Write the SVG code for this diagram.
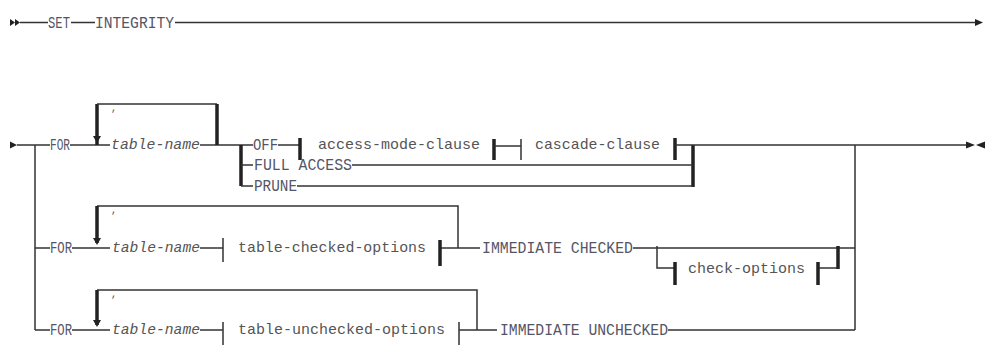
<svg xmlns="http://www.w3.org/2000/svg" width="992" height="345" viewBox="0 0 992 345">
<defs>
<style>
.l{stroke:#333;stroke-width:1.5;fill:none}
.t{stroke:#222;stroke-width:3.5;fill:none}
.a{fill:#222;stroke:none}
text{font-family:"Liberation Mono",monospace;font-size:15px;fill:#555}
.k{fill:#556;font-size:16px}
.i{font-style:italic}
.c{font-size:10px}
</style>
</defs>
<rect width="992" height="345" fill="#fff"/>
<g id="connectors">
<!-- top line -->
<path class="a" d="M10,19 L15,22.5 L10,26 Z M15,19 L20,22.5 L15,26 Z"/>
<path class="l" d="M20,22.5 H48 M71,22.5 H95 M175,22.5 H976"/>
<path class="a" d="M975,19 L983,22.5 L975,26 Z"/>
<!-- row 1 -->
<path class="a" d="M10,141.5 L17,145 L10,148.5 Z"/>
<path class="l" d="M17,145 H50 M70,145 H110 M200,145 H253"/>
<path class="l" d="M35,145 V330 M35,248 H50 M35,330 H50"/>
<path class="t" d="M97,145 V104"/>
<path class="l" d="M97,104 H217"/>
<path class="t" d="M217,104 V145"/>
<path class="a" d="M93,136 L101,136 L97,143 Z"/>
<path class="t" d="M241,145 V186"/>
<path class="l" d="M241,165 H253 M241,186 H253 M278,145 H300"/>
<path class="t" d="M300,138 V160 M494,139 V160 M675,138 V160 M693,145 V187"/>
<path class="l" d="M494,146 H521 M521,139 V160 M675,145 H968 M352,165 H693 M297,186 H693 M855,145 V330"/>
<path class="a" d="M966,141.5 L975,145 L966,148.5 Z M985,141.5 L976,145 L985,148.5 Z"/>
<!-- row 2 -->
<path class="l" d="M72,248 H110 M97,206 H458 V248 M200,248 H223 M223,238 V262 M440,248 H480 M633,248 H855"/>
<path class="t" d="M97,206 V243 M440,240 V266"/>
<path class="a" d="M93,238 L101,238 L97,245 Z"/>
<path class="l" d="M657,246 V268 H675 M818,268 H838"/>
<path class="t" d="M675,262 V285 M818,262 V285 M838,246 V269"/>
<!-- row 3 -->
<path class="l" d="M72,330 H110 M97,290 H477 V330 M200,330 H223 M223,322 V345 M459,322 V345 M459,330 H497 M668,330 H855"/>
<path class="t" d="M97,290 V325"/>
<path class="a" d="M93,320 L101,320 L97,327 Z"/>
</g>
<g id="set"><text class="k" x="48" y="28" textLength="22" lengthAdjust="spacingAndGlyphs">SET</text></g>
<g id="integrity"><text class="k" x="95" y="28" textLength="79" lengthAdjust="spacingAndGlyphs">INTEGRITY</text></g>
<g id="r1-for"><text class="k" x="50" y="150" textLength="20" lengthAdjust="spacingAndGlyphs">FOR</text></g>
<g id="r1-comma"><text class="c" x="111" y="111">,</text></g>
<g id="r1-table"><text class="i" x="111" y="149" textLength="89" lengthAdjust="spacingAndGlyphs">table-name</text></g>
<g id="off"><text class="k" x="253" y="150" textLength="25" lengthAdjust="spacingAndGlyphs">OFF</text></g>
<g id="full-access"><text class="k" x="254" y="170" textLength="98" lengthAdjust="spacingAndGlyphs">FULL ACCESS</text></g>
<g id="prune"><text class="k" x="254" y="191" textLength="43" lengthAdjust="spacingAndGlyphs">PRUNE</text></g>
<g id="access-mode"><text x="318" y="149" textLength="162" lengthAdjust="spacingAndGlyphs">access-mode-clause</text></g>
<g id="cascade"><text x="535" y="149" textLength="125" lengthAdjust="spacingAndGlyphs">cascade-clause</text></g>
<g id="r2-for"><text class="k" x="50" y="253" textLength="22" lengthAdjust="spacingAndGlyphs">FOR</text></g>
<g id="r2-comma"><text class="c" x="111" y="213">,</text></g>
<g id="r2-table"><text class="i" x="112" y="252" textLength="88" lengthAdjust="spacingAndGlyphs">table-name</text></g>
<g id="checked-opts"><text x="238" y="252" textLength="188" lengthAdjust="spacingAndGlyphs">table-checked-options</text></g>
<g id="imm-checked"><text class="k" x="482" y="253" textLength="151" lengthAdjust="spacingAndGlyphs">IMMEDIATE CHECKED</text></g>
<g id="check-opts"><text x="688" y="273" textLength="117" lengthAdjust="spacingAndGlyphs">check-options</text></g>
<g id="r3-for"><text class="k" x="50" y="335" textLength="22" lengthAdjust="spacingAndGlyphs">FOR</text></g>
<g id="r3-comma"><text class="c" x="111" y="297">,</text></g>
<g id="r3-table"><text class="i" x="112" y="334" textLength="88" lengthAdjust="spacingAndGlyphs">table-name</text></g>
<g id="unchecked-opts"><text x="238" y="334" textLength="207" lengthAdjust="spacingAndGlyphs">table-unchecked-options</text></g>
<g id="imm-unchecked"><text class="k" x="500" y="335" textLength="168" lengthAdjust="spacingAndGlyphs">IMMEDIATE UNCHECKED</text></g>
</svg>
